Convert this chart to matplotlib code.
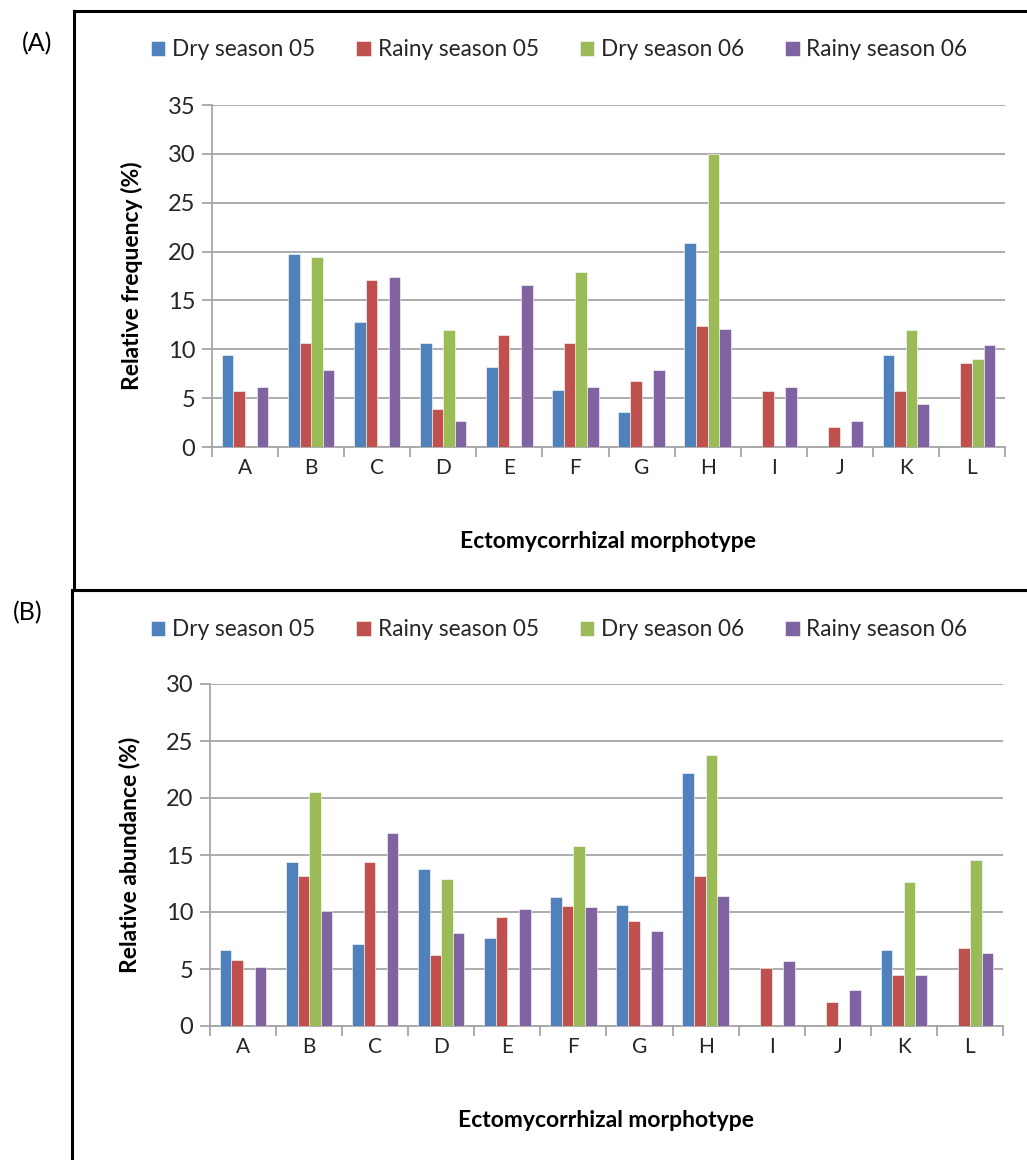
import numpy as np
import matplotlib.pyplot as plt
from matplotlib.patches import Rectangle

plt.rcParams['font.family'] = ['Lato', 'DejaVu Sans']

morphotypes = ['A', 'B', 'C', 'D', 'E', 'F', 'G', 'H', 'I', 'J', 'K', 'L']
series = ['Dry season 05', 'Rainy season 05', 'Dry season 06', 'Rainy season 06']
colors = ['#4f81bd', '#c0504d', '#9bbb59', '#8064a2']

# (A) relative frequency
freq_dry05 = [9.4, 19.8, 12.8, 10.6, 8.2, 5.8, 3.6, 20.9, 0, 0, 9.4, 0]
freq_rainy05 = [5.7, 10.6, 17.1, 3.9, 11.5, 10.6, 6.8, 12.4, 5.7, 2.0, 5.7, 8.6]
freq_dry06 = [0, 19.4, 0, 12.0, 0, 17.9, 0, 30.0, 0, 0, 12.0, 9.0]
freq_rainy06 = [6.1, 7.9, 17.4, 2.7, 16.6, 6.1, 7.9, 12.1, 6.1, 2.7, 4.4, 10.4]

# (B) relative abundance
abun_dry05 = [6.7, 14.4, 7.2, 13.8, 7.7, 11.3, 10.6, 22.2, 0, 0, 6.7, 0]
abun_rainy05 = [5.8, 13.2, 14.4, 6.2, 9.6, 10.5, 9.2, 13.2, 5.1, 2.1, 4.5, 6.8]
abun_dry06 = [0, 20.5, 0, 12.9, 0, 15.8, 0, 23.8, 0, 0, 12.6, 14.6]
abun_rainy06 = [5.2, 10.1, 16.9, 8.2, 10.3, 10.4, 8.3, 11.4, 5.7, 3.2, 4.5, 6.4]

W, H = 1027, 1160
fig = plt.figure(figsize=(W / 100, H / 100), dpi=100)

def fx(px):
    return px / W

def fy(py):
    return 1 - py / H

txt = '#262626'
grid = '#a6a6a6'

def panel(rect, data, ymax, ylabel, legend_y, label, label_xy):
    ax = fig.add_axes(rect)
    x = np.arange(len(morphotypes))
    bw = 0.175
    for i, vals in enumerate(data):
        ax.bar(x + (i - 1.5) * bw, vals, bw, color=colors[i], label=series[i],
               edgecolor='white', linewidth=0.4, zorder=3)
    ax.set_xlim(-0.5, len(morphotypes) - 0.5)
    ax.set_ylim(0, ymax)
    ax.set_yticks(np.arange(0, ymax + 1, 5))
    ax.yaxis.grid(True, color=grid, linewidth=1.3, zorder=0)
    ax.set_xticks(x)
    ax.set_xticklabels(morphotypes)
    ax.set_xticks(np.arange(-0.5, len(morphotypes), 1), minor=True)
    ax.tick_params(axis='x', which='major', length=0, pad=8, labelsize=15, labelcolor=txt)
    ax.tick_params(axis='x', which='minor', length=7, color=grid, width=1.3)
    ax.tick_params(axis='y', length=7, color=grid, width=1.3, labelsize=17, labelcolor=txt, pad=5)
    for s in ['top', 'right']:
        ax.spines[s].set_visible(False)
    for s in ['left', 'bottom']:
        ax.spines[s].set_color(grid)
        ax.spines[s].set_linewidth(1.3)
    ax.set_xlabel('Ectomycorrhizal morphotype', fontsize=16.5, fontweight='bold', color='black', labelpad=38)
    ax.set_ylabel(ylabel, fontsize=16.5, fontweight='bold', color='black', labelpad=18)
    ax.set_facecolor('none')
    handles, labels = ax.get_legend_handles_labels()
    fig.legend(handles, labels, loc='center', bbox_to_anchor=(fx(559), fy(legend_y)), ncol=4,
               frameon=False, fontsize=16.3, handlelength=0.65, handleheight=0.65,
               handletextpad=0.3, columnspacing=1.8, labelcolor=txt)
    fig.text(fx(label_xy[0]), fy(label_xy[1]), label, fontsize=18, ha='center', va='center', color='black')
    return ax

panel([fx(212), fy(447), fx(1005) - fx(212), fy(105) - fy(447)],
      [freq_dry05, freq_rainy05, freq_dry06, freq_rainy06], 35,
      'Relative frequency (%)', 50, '(A)', (37, 44))
panel([fx(210), fy(1026), fx(1003) - fx(210), fy(684) - fy(1026)],
      [abun_dry05, abun_rainy05, abun_dry06, abun_rainy06], 30,
      'Relative abundance (%)', 630, '(B)', (28, 613))

# panel frames
fig.patches.append(Rectangle((fx(74), fy(590)), 1.0, fy(11) - fy(590), transform=fig.transFigure,
                             fill=False, edgecolor='black', linewidth=2.2))
fig.patches.append(Rectangle((fx(72), fy(1200)), 1.0, fy(590) - fy(1200), transform=fig.transFigure,
                             fill=False, edgecolor='black', linewidth=2.2))

fig.savefig('out.png', dpi=100)
